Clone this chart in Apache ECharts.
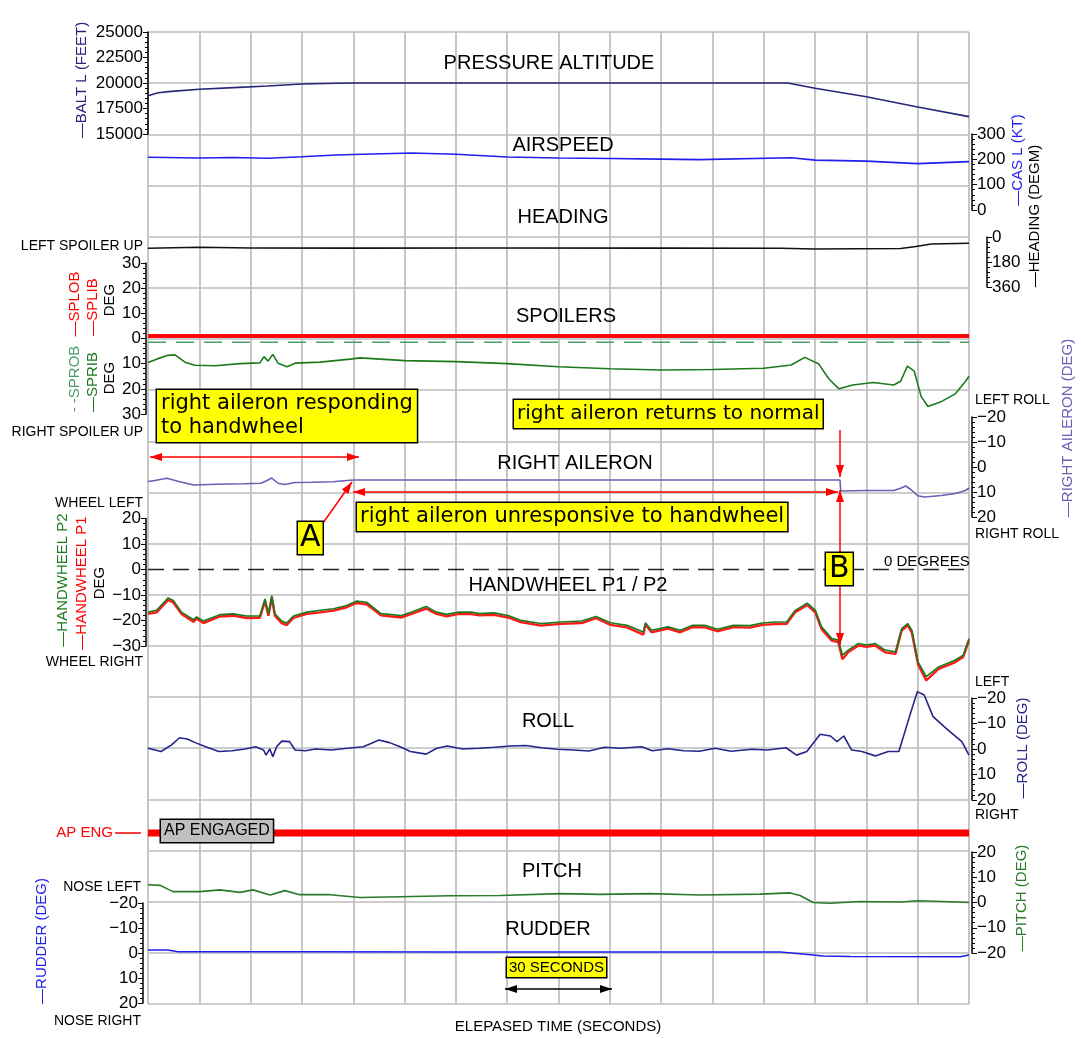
<!DOCTYPE html>
<html><head><meta charset="utf-8">
<script src="https://cdn.jsdelivr.net/npm/echarts@6/dist/echarts.min.js"></script>
<style>html,body{margin:0;padding:0;background:#fff}#c{width:1081px;height:1039px}</style>
</head><body><div id="c"></div>
<script>
// ---------------- DATA (time in seconds) ----------------
const altT = [0, 3, 6, 15, 25, 35, 45, 55, 60, 100, 140, 187, 195, 210, 225, 240];
const altV = [18750, 19050, 19150, 19380, 19550, 19700, 19900, 19980, 20000, 20000, 20000, 20000, 19480, 18660, 17650, 16700];

const casT = [0, 15, 25, 35, 45, 55, 60, 77, 90, 105, 120, 135, 150, 161, 188, 195, 210, 225, 240];
const casV = [208, 205, 207, 204, 210, 217, 219, 225, 220, 209, 205, 203, 201, 199, 206, 197, 193, 183, 191];

const hdgT = [0, 15, 30, 60, 100, 150, 185, 195, 220, 224, 229, 240];
const hdgV = [81, 74, 79, 80, 79, 80, 81, 86, 83, 70, 50, 45];

const splobT = [0, 240];
const splobV = [1, 1];
const splibT = [0, 240];
const splibV = [1, 1];
const sprobT = [0, 240];
const sprobV = [-1.5, -1.5];
const spribT = [0, 2.9, 5.8, 7.9, 10.8, 13.7, 19.6, 26.9, 32.7, 33.9, 35.1, 36.5, 38, 40.6, 43, 50.3, 59.1, 62, 75, 90, 105, 120, 135, 150, 165, 180, 188, 192, 196, 199, 202, 206, 212, 218, 220, 222, 224, 226, 228, 232, 236, 239, 240];
const spribV = [-9.5, -8, -6.7, -6.5, -9.4, -10.6, -10.8, -10, -9.7, -7.2, -9, -6.3, -9.8, -11.2, -9.8, -9.4, -8.2, -7.7, -8.8, -9.2, -10, -11.2, -12, -12.5, -12.3, -11.8, -10.5, -7.5, -10, -16, -20, -18.5, -17.5, -18.5, -17, -11, -13, -23, -27, -25, -22, -17, -15];

const ailT = [0, 2, 5.5, 9, 13.3, 20, 28, 33, 34.5, 36.2, 38, 40, 43, 48, 54, 59, 61, 202.3, 202.5, 210, 218, 220, 221.5, 223, 225, 227, 232, 236, 239, 240];
const ailV = [5.8, 5.4, 4.5, 5.8, 7.2, 6.9, 6.7, 6.5, 5.6, 4.4, 6.5, 7, 6.2, 6.1, 5.9, 5.3, 5.2, 5.2, 9.6, 9.4, 9.4, 8.5, 7.6, 9, 11.5, 12, 11.4, 10.6, 9.4, 8.4];

const hwT = [0, 2.5, 5.9, 7.4, 9.8, 13.3, 14.2, 16.2, 21, 24.9, 28.9, 32.7, 34.2, 35.2, 36.2, 37.1, 39.1, 40.5, 42.5, 46.4, 50.3, 54.2, 58.1, 60.9, 63.9, 65.7, 68.1, 74.1, 77.1, 81.3, 84.3, 87.3, 90.9, 94.5, 96.9, 101.1, 105.3, 108.9, 114.9, 120.8, 126.8, 131, 135.2, 140, 144.8, 145.4, 147.2, 152, 155.6, 159.2, 162.8, 166.4, 171.2, 176, 179.6, 183.2, 186.7, 189.2, 192.7, 195.1, 196.9, 199.9, 201.8, 203, 204.7, 207.7, 210.1, 212.5, 215.5, 218.5, 220.3, 222.1, 223.3, 225.1, 227.5, 231.1, 235.9, 238.3, 240];
const hwP2 = [-16.7, -16, -11.1, -12.1, -16.7, -19.7, -18.6, -20.2, -17.7, -17.4, -18.2, -18.2, -11.5, -17.4, -10.2, -17.4, -20.2, -21, -18.2, -16.7, -16, -15.4, -14.1, -12.4, -12.8, -14.7, -17.3, -18, -16.7, -14.5, -16.7, -17.6, -16.7, -16.7, -17.3, -17, -18, -19.9, -21.2, -20.6, -20.2, -18.4, -20.9, -21.9, -24.5, -20.9, -23.8, -22.5, -23.8, -21.9, -21.9, -23.4, -21.9, -22, -21, -20.6, -20.6, -16, -13.2, -16, -22.5, -27.1, -27.7, -33.6, -31.6, -29, -29.6, -29, -31.6, -32.3, -23.2, -21.2, -23.8, -36.2, -42, -38.2, -35.6, -33.6, -27.1];
const hwP1 = [-17.4, -16.8, -11.9, -12.9, -17.4, -20.5, -19.3, -21, -18.4, -18.1, -19, -18.9, -12.3, -18.1, -11, -18.1, -21, -21.8, -19, -17.4, -16.8, -16.1, -14.8, -13.1, -13.6, -15.4, -18, -18.8, -17.4, -15.3, -17.4, -18.4, -17.4, -17.5, -18, -17.8, -18.8, -20.6, -22, -21.3, -21, -19.1, -21.7, -22.7, -25.5, -21.6, -24.6, -23.2, -24.6, -22.6, -22.7, -24.2, -22.6, -22.8, -21.7, -21.4, -21.3, -16.7, -13.9, -16.9, -23.4, -27.9, -28.5, -35.2, -32.4, -29.8, -30.3, -29.8, -32.5, -33.1, -24, -21.9, -24.8, -37.2, -43.5, -39, -36.4, -34.3, -27.9];

const rollT = [0, 3.8, 6.9, 9.2, 11.5, 13.8, 16.9, 20.7, 24.6, 28.4, 31.5, 33.8, 34.5, 35.6, 36.5, 37.6, 39.1, 41.4, 43, 46, 49, 53.7, 58.3, 62.9, 65.2, 67.5, 70.6, 73.7, 76.7, 81.3, 84.4, 87.5, 92, 96.7, 101.3, 105.9, 110.5, 115.1, 119.7, 124.3, 128.9, 133.5, 138.1, 144.3, 147.4, 152, 156.6, 161.2, 165.8, 170.4, 176.5, 181.1, 186.5, 189.6, 192.6, 196.5, 199.5, 201.4, 203.4, 205.7, 208.7, 212.6, 216.4, 219.5, 222.6, 224.9, 226.9, 229.5, 233.3, 237.9, 240];
const rollV = [-0.3, 1, -1.6, -4.4, -3.9, -2.5, -0.9, 1, 0.7, 0, -0.9, 0.4, 2.4, 0, 3, -0.9, -3.1, -2.9, 0.4, 0.7, 0, 0.4, -0.3, -0.9, -2.2, -3.5, -2.5, -0.9, 1, 2, -0.3, -1.2, 0, -0.3, -0.7, -1.2, -1.4, -0.5, 0.1, 0.4, 0.8, -0.7, -0.3, -0.9, 0.7, -0.1, 0.7, 0.9, -0.3, 0.9, 0.1, 0.4, -0.5, 2.4, 1, -5.8, -5.1, -2.9, -5.1, 0.4, 1, 2.7, 1, 1, -12.7, -22.5, -21.2, -12.7, -8.1, -2.9, 2.4];

const apT = [0, 240];
const apV = [1, 1];

const pitchT = [0, 3.5, 7.3, 15.2, 21, 26.9, 30.7, 35.7, 40, 44.4, 53.2, 62, 73.7, 88.3, 102.9, 120.5, 132.2, 146.8, 161.4, 179, 187.7, 190.6, 194.4, 199.4, 208.2, 219.9, 225.1, 234.5, 240];
const pitchV = [7, 6.8, 4.3, 4.3, 5, 4, 5, 3, 4.7, 3.1, 3.1, 2, 2.3, 2.7, 2.8, 3.5, 3.2, 3.5, 3, 3.3, 3.8, 2.8, 0, -0.3, 0.4, 0.2, 0.7, 0.3, 0];

const rudT = [0, 5.8, 8.8, 44.4, 90, 140, 184.8, 190.6, 197.4, 205.3, 237.4, 240];
const rudV = [-1.2, -1.2, -0.5, -0.5, -0.4, -0.4, -0.4, 0.3, 1.2, 1.4, 1.5, 0.8];

const zeroT = [0, 240];
const zeroV = [0, 0];

// ---------------- CHART ----------------
const zip = (t, v) => t.map((x, i) => [x, v[i]]);
const FONT = 'Liberation Sans, Arial, sans-serif';
const AFONT = 'DejaVu Sans, sans-serif';
const LEFT = 148, RIGHT = 112;
const minus = v => String(v).replace('-', '\u2212');

const panels = [
  {top: 32, h: 102, min: 15000, max: 25000, interval: 2500, pos: 'left', off: 0},     // 1 altitude
  {top: 134, h: 76, min: 0, max: 300, interval: 100, pos: 'right', off: 3},          // 2 airspeed
  {top: 237, h: 50, min: 0, max: 360, interval: 180, pos: 'right', off: 18, inv: true}, // 3 heading
  {top: 263, h: 151, min: -30, max: 30, interval: 10, pos: 'left', off: 2, fmt: v => String(Math.abs(v))}, // 4 spoilers
  {top: 417, h: 100, min: -20, max: 20, interval: 10, pos: 'right', off: 3, inv: true}, // 5 aileron
  {top: 518.6, h: 127.4, min: -30, max: 20, interval: 10, pos: 'left', off: 2},       // 6 handwheel
  {top: 698, h: 102, min: -20, max: 20, interval: 10, pos: 'right', off: 3, inv: true}, // 7 roll
  {top: 815, h: 36, min: 0, max: 2, interval: 1, pos: 'left', off: 0, hide: true},  // 8 AP
  {top: 852, h: 101, min: -20, max: 20, interval: 10, pos: 'right', off: 3},          // 9 pitch
  {top: 903, h: 100, min: -20, max: 20, interval: 10, pos: 'left', off: 5, inv: true}  // 10 rudder
];

const grid = [{left: LEFT, right: RIGHT, top: 32, height: 972}];
const xAxis = [{gridIndex: 0, type: 'value', min: 0, max: 240, interval: 15,
  axisLine: {show: false}, axisTick: {show: false}, axisLabel: {show: false},
  splitLine: {show: true, lineStyle: {color: '#bdbdbd', width: 1.7}}}];
const yAxis = [{gridIndex: 0, type: 'value', min: 0, max: 19, interval: 1,
  axisLine: {show: false}, axisTick: {show: false}, axisLabel: {show: false},
  splitLine: {show: true, lineStyle: {color: '#bdbdbd', width: 1.7}}}];

panels.forEach((p, i) => {
  const gi = i + 1;
  grid.push({left: LEFT, right: RIGHT, top: p.top, height: p.h});
  xAxis.push({gridIndex: gi, type: 'value', min: 0, max: 240, show: false});
  yAxis.push({
    gridIndex: gi, type: 'value', min: p.min, max: p.max, interval: p.interval,
    inverse: !!p.inv, position: p.pos, offset: p.off, show: !p.hide,
    axisLine: {show: true, onZero: false, lineStyle: {color: '#000', width: 1.5}},
    axisTick: {show: true, length: 5, lineStyle: {color: '#000', width: 1}},
    minorTick: {show: true, splitNumber: 5, length: 3, lineStyle: {color: '#000', width: 1}},
    splitLine: {show: false},
    axisLabel: {show: true, color: '#000', fontSize: 17, fontFamily: FONT, margin: 5,
      formatter: p.fmt || minus}
  });
});

function line(gi, t, v, color, width, extra) {
  return Object.assign({
    type: 'line', xAxisIndex: gi, yAxisIndex: gi, data: zip(t, v),
    showSymbol: false, symbol: 'none', clip: false, animation: false, silent: true,
    lineStyle: {color: color, width: width}
  }, extra || {});
}

const series = [
  line(1, altT, altV, '#25257a', 1.6),
  line(2, casT, casV, '#1f1ff0', 1.6),
  line(3, hdgT, hdgV, '#111', 1.6),
  line(4, sprobT, sprobV, '#4a9e6a', 1.5, {lineStyle: {color: '#4a9e6a', width: 1.5, type: [18, 10]}}),
  line(4, splibT, splibV, '#ff0000', 3.5),
  line(4, splobT, splobV, '#ff0000', 3.5),
  line(4, spribT, spribV, '#1c7a1c', 1.6),
  line(5, ailT, ailV, '#6a5fb4', 1.6),
  line(6, zeroT, zeroV, '#000', 1.4, {lineStyle: {color: '#222', width: 1.4, type: [16, 9]}}),
  line(6, hwT, hwP1, '#ff1a1a', 2.4),
  line(6, hwT, hwP2, '#1c7a1c', 1.6),
  line(7, rollT, rollV, '#24248a', 1.6),
  line(8, apT, apV, '#ff0000', 7),
  line(9, pitchT, pitchV, '#2a7a2a', 1.6),
  line(10, rudT, rudV, '#1f1ff0', 1.6)
];

// ---------------- ANNOTATIONS ----------------
const G = [];
function txt(x, y, s, o) {
  o = o || {};
  G.push({type: 'text', x: x, y: y, z: 110, silent: true, rotation: o.rot || 0,
    style: Object.assign({text: s, fill: o.color || '#000', fontSize: o.size || 14,
      fontFamily: o.font || FONT, align: o.align || 'left', verticalAlign: o.va || 'middle'}, o.style || {})});
}
function rot(x, y, s, color) { txt(x, y, s, {rot: Math.PI / 2, align: 'center', color: color, size: 15}); }
function box(x, y, s, o) {
  o = o || {};
  txt(x, y, s, {font: o.font || AFONT, size: o.size || 20, va: 'top', align: 'left',
    style: {backgroundColor: o.bg || '#ffff00', borderColor: '#000', borderWidth: 1.5,
      padding: o.pad || [2, 4, 2, 4], lineHeight: o.lh || 24}});
}
function head(x, y, ang, color) {
  const len = 12, hw = 4;
  const bx = x - len * Math.cos(ang), by = y - len * Math.sin(ang);
  const px = -Math.sin(ang) * hw, py = Math.cos(ang) * hw;
  G.push({type: 'polygon', z: 105, silent: true, shape: {points: [[x, y], [bx + px, by + py], [bx - px, by - py]]}, style: {fill: color}});
}
function arrow(x1, y1, x2, y2, color, both) {
  const ang = Math.atan2(y2 - y1, x2 - x1);
  G.push({type: 'line', z: 104, silent: true, shape: {x1: x1, y1: y1, x2: x2, y2: y2}, style: {stroke: color, lineWidth: 1.5}});
  head(x2, y2, ang, color);
  if (both) head(x1, y1, ang + Math.PI, color);
}

// panel titles
[['PRESSURE ALTITUDE', 549, 63], ['AIRSPEED', 563, 145], ['HEADING', 563, 217], ['SPOILERS', 566, 316],
 ['RIGHT AILERON', 575, 463], ['HANDWHEEL P1 / P2', 568, 585], ['ROLL', 548, 721], ['PITCH', 552, 871],
 ['RUDDER', 548, 929]].forEach(a => txt(a[1], a[2], a[0], {align: 'center', size: 20}));
txt(558, 1027, 'ELEPASED TIME (SECONDS)', {align: 'center', size: 15});

// side labels
txt(143, 246, 'LEFT SPOILER UP', {align: 'right'});
txt(143, 432, 'RIGHT SPOILER UP', {align: 'right'});
txt(143, 503, 'WHEEL LEFT', {align: 'right'});
txt(143, 662, 'WHEEL RIGHT', {align: 'right'});
txt(141, 887, 'NOSE LEFT', {align: 'right'});
txt(141, 1021, 'NOSE RIGHT', {align: 'right'});
txt(975, 400, 'LEFT ROLL');
txt(975, 534, 'RIGHT ROLL');
txt(975, 682, 'LEFT');
txt(975, 815, 'RIGHT');
txt(884, 562, '0 DEGREES', {size: 15});
txt(113, 833, 'AP ENG', {align: 'right', color: '#ff0000', size: 15});
G.push({type: 'line', z: 104, silent: true, shape: {x1: 115, y1: 833, x2: 141, y2: 833}, style: {stroke: '#ff0000', lineWidth: 1.5}});

// rotated axis names
rot(82, 80, '\u2014BALT L (FEET)', '#25257a');
rot(1018, 160, '\u2014CAS L (KT)', '#1f1ff0');
rot(1035, 216, '\u2014HEADING (DEGM)', '#000');
rot(75, 304, '\u2014SPLOB', '#ff0000');
rot(93, 307, '\u2014SPLIB', '#ff0000');
rot(110, 300, 'DEG', '#000');
rot(75, 379, '- -SPROB', '#4a9e6a');
rot(93, 382, '\u2014SPRIB', '#1c7a1c');
rot(110, 378, 'DEG', '#000');
rot(1068, 428, '\u2014RIGHT AILERON (DEG)', '#6a5fb4');
rot(63, 580, '\u2014HANDWHEEL P2', '#1c7a1c');
rot(82, 583, '\u2014HANDWHEEL P1', '#ff0000');
rot(100, 583, 'DEG', '#000');
rot(1023, 748, '\u2014ROLL (DEG)', '#24248a');
rot(1022, 898, '\u2014PITCH (DEG)', '#2a7a2a');
rot(42, 941, '\u2014RUDDER (DEG)', '#1f1ff0');

// boxes
box(157, 390, 'right aileron responding\nto handwheel', {size: 21});
box(514, 400, 'right aileron returns to normal', {pad: [2, 3, 2, 3]});
box(357, 503, 'right aileron unresponsive to handwheel', {size: 21, pad: [2, 3, 2, 3]});
box(298, 522, 'A', {size: 30, pad: [0, 2, 0, 2], lh: 32});
box(826, 553, 'B', {size: 30, pad: [0, 3, 0, 3], lh: 32});
box(507, 958, '30 SECONDS', {font: FONT, size: 15, pad: [1, 2, 1, 2], lh: 17});
box(161, 820, 'AP ENGAGED', {font: FONT, size: 16, bg: '#c0c0c0', pad: [2, 3, 2, 3], lh: 18});

// arrows
arrow(150, 457, 359, 457, '#ff0000', true);
arrow(353, 492, 838, 492, '#ff0000', true);
arrow(323, 523, 352, 482, '#ff0000');
arrow(840, 430, 840, 477, '#ff0000');
arrow(840, 553, 840, 490, '#ff0000');
arrow(840, 586, 840, 645, '#ff0000');
arrow(505, 989, 612, 989, '#000', true);

const chart = echarts.init(document.getElementById('c'), null, {renderer: 'canvas'});
chart.setOption({animation: false, backgroundColor: '#fff', grid, xAxis, yAxis, series, graphic: {elements: G}});
</script>
</body></html>
